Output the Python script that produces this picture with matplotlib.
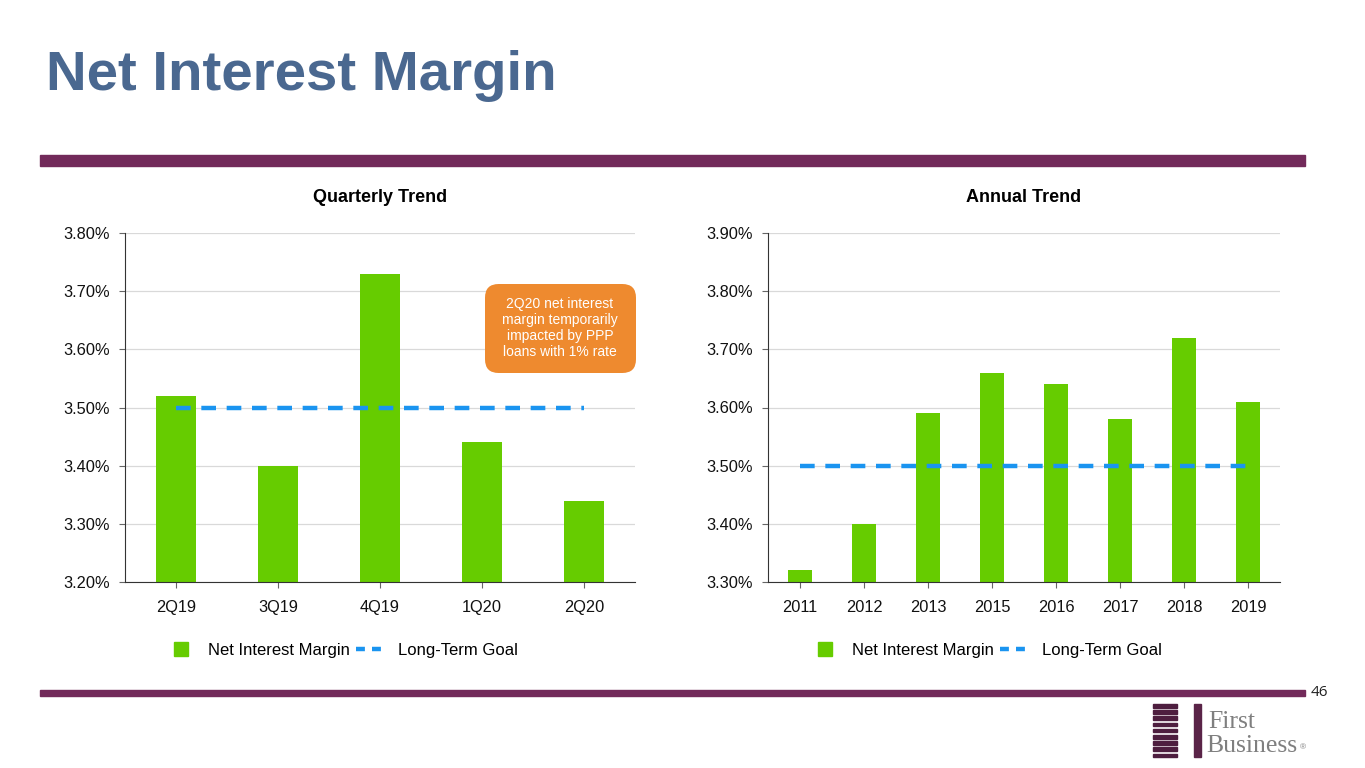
import matplotlib
matplotlib.use('Agg')
import matplotlib.pyplot as plt
from matplotlib.patches import Rectangle, FancyBboxPatch
from matplotlib.lines import Line2D
import numpy as np

plt.rcParams['font.family'] = ['Liberation Sans', 'DejaVu Sans']

# ── Dados ────────────────────────────────────────────────────────────────
trimestres = ['2Q19', '3Q19', '4Q19', '1Q20', '2Q20']
nim_trim = [3.52, 3.40, 3.73, 3.44, 3.34]
anos = ['2011', '2012', '2013', '2015', '2016', '2017', '2018', '2019']
nim_anual = [3.32, 3.40, 3.59, 3.66, 3.64, 3.58, 3.72, 3.61]
meta_longo_prazo = 3.50

VERDE = '#66CC00'
AZUL = '#1A94F0'
ROXO = '#722A5A'
CINZA_GRID = '#D9D9D9'

fig = plt.figure(figsize=(13.65, 7.68), dpi=100)

# título e barras roxas
fig.text(46 / 1365, 1 - 76 / 768, 'Net Interest Margin', fontsize=40.6,
         fontweight='bold', color='#4A6890', va='center', ha='left')
fig.patches.append(Rectangle((40 / 1365, 1 - 166 / 768), 1265 / 1365, 11 / 768,
                             transform=fig.transFigure, color=ROXO))
fig.patches.append(Rectangle((40 / 1365, 1 - 696 / 768), 1265 / 1365, 6 / 768,
                             transform=fig.transFigure, color=ROXO))
fig.text(1319 / 1365, 1 - 693 / 768, '46', fontsize=11, color='#222222',
         va='center', ha='center', family=['Open Sans', 'DejaVu Sans'])


def painel(ax, cats, vals, ymin, ymax, titulo):
    x = np.arange(len(cats))
    ax.bar(x, vals, width=0.39, color=VERDE, zorder=2,
           label='Net Interest Margin')
    ax.plot([x[0], x[-1]], [meta_longo_prazo] * 2, color=AZUL, lw=3.2,
            dashes=(3.3, 2.4), zorder=3, label='Long-Term Goal')
    ax.set_xlim(-0.5, len(cats) - 0.5)
    ax.set_ylim(ymin, ymax)
    ticks = np.round(np.arange(ymin, ymax + 0.001, 0.1), 2)
    ax.set_yticks(ticks)
    ax.set_yticklabels([f'{t:.2f}%' for t in ticks])
    ax.set_xticks(x)
    ax.set_xticklabels(cats)
    ax.grid(axis='y', color=CINZA_GRID, lw=0.9, zorder=0)
    ax.set_axisbelow(True)
    for s in ['top', 'right']:
        ax.spines[s].set_visible(False)
    ax.spines['left'].set_color('#333333')
    ax.spines['bottom'].set_color('#333333')
    ax.tick_params(axis='both', labelsize=11.8, color='#666666', length=4,
                   labelcolor='#111111')
    ax.tick_params(axis='y', pad=7)
    ax.tick_params(axis='x', pad=9)
    ax.set_title(titulo, fontsize=13, fontweight='bold', pad=22)


ax1 = fig.add_axes([125 / 1365, 1 - 582 / 768, 510 / 1365, 349 / 768])
painel(ax1, trimestres, nim_trim, 3.20, 3.80, 'Quarterly Trend')
ax2 = fig.add_axes([768 / 1365, 1 - 582 / 768, 512 / 1365, 349 / 768])
painel(ax2, anos, nim_anual, 3.30, 3.90, 'Annual Trend')

# caixa laranja
fig.patches.append(FancyBboxPatch((485 / 1365, 1 - 373 / 768), 151 / 1365,
                                  89 / 768, transform=fig.transFigure,
                                  boxstyle='round,pad=0,rounding_size=0.01',
                                  fc='#EE8A2F', ec='none', mutation_aspect=1.78))
fig.text(560 / 1365, 1 - 328 / 768,
         '2Q20 net interest\nmargin temporarily\nimpacted by PPP\nloans with 1% rate',
         ha='center', va='center', fontsize=10, color='white', linespacing=1.2)

# legendas
handles = [Line2D([], [], marker='s', color='none', markerfacecolor=VERDE,
                  markeredgecolor=VERDE, markersize=10),
           Line2D([], [], color=AZUL, lw=3.2, dashes=(2.0, 1.6))]
nomes = ['Net Interest Margin', 'Long-Term Goal']
for cx in (342, 986):
    fig.legend(handles, nomes, loc='center', ncol=2, frameon=False,
               bbox_to_anchor=(cx / 1365, 1 - 650 / 768), fontsize=12,
               handlelength=1.8, handletextpad=0.7, columnspacing=0.4)

# logo First Business
for i in range(9):
    y = 704 + i * 6.2
    fig.patches.append(Rectangle((1153 / 1365, 1 - (y + 3.5) / 768), 24 / 1365,
                                 3.5 / 768, transform=fig.transFigure,
                                 color='#4E1E3F'))
fig.patches.append(Rectangle((1194 / 1365, 1 - 757 / 768), 7 / 1365, 53 / 768,
                             transform=fig.transFigure, color='#5A2448'))
fig.text(1208 / 1365, 1 - 722 / 768, 'First', fontsize=18.5, color='#7F7F7F',
         family=['Liberation Serif'], va='center', ha='left')
fig.text(1206 / 1365, 1 - 746 / 768, 'Business', fontsize=18.5, color='#7F7F7F',
         family=['Liberation Serif'], va='center', ha='left')
fig.text(1300 / 1365, 1 - 748 / 768, '®', fontsize=6, color='#7F7F7F',
         va='center', ha='left')

plt.savefig('out.png', dpi=100)
plt.close()
